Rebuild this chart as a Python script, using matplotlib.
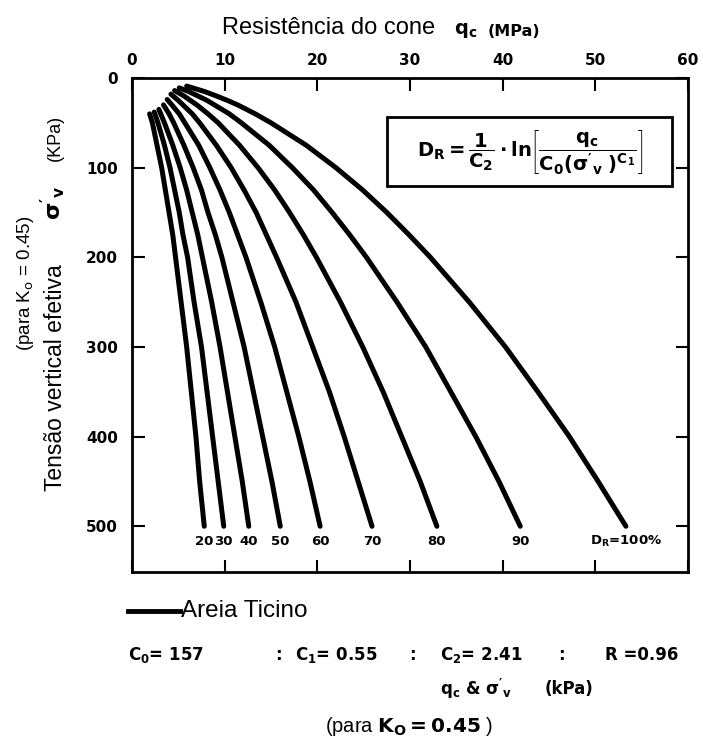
import matplotlib
matplotlib.use("Agg")
import matplotlib.pyplot as plt
from matplotlib.patches import Rectangle

plt.rcParams["font.family"] = ["Liberation Sans", "DejaVu Sans"]
plt.rcParams["mathtext.fontset"] = "custom"
plt.rcParams["mathtext.rm"] = "DejaVu Sans"
plt.rcParams["mathtext.it"] = "DejaVu Sans:italic"
plt.rcParams["mathtext.bf"] = "DejaVu Sans:bold"

BOLD = "DejaVu Sans"

# ── 数据 ──────────────────────────────────────────────────────
DR_LABELS = ["20", "30", "40", "50", "60", "70", "80", "90", "$\\mathbf{D_R}$=100%"]

# 每条曲线上端（σ'v < 50 kPa）的读数
TOP_SIGMA = [
    [40],
    [38],
    [35, 40],
    [30, 40],
    [24, 30, 40],
    [18, 25, 30, 40],
    [14, 20, 25, 30, 40],
    [11, 15, 20, 25, 30, 40],
    [9, 15, 20, 25, 30, 40],
]
TOP_QC = [
    [1.9],
    [2.4],
    [2.9, 3.1],
    [3.4, 4.0],
    [3.8, 4.3, 5.1],
    [4.2, 5.0, 5.5, 6.5],
    [4.6, 5.6, 6.3, 7.0, 8.2],
    [5.1, 6.1, 7.1, 8.1, 8.9, 10.5],
    [5.9, 7.8, 9.1, 10.3, 11.4, 13.3],
]

# 公共的 σ'v 读数位置 (kPa)
SIGMA = [50, 75, 100, 125, 150, 175, 200, 250, 300, 350, 400, 450, 500]

# 各 DR 曲线在上述 σ'v 处的 qc (MPa)
QC_20 = [2.2, 2.7, 3.2, 3.6, 4.0, 4.4, 4.7, 5.3, 5.9, 6.4, 6.9, 7.3, 7.8]
QC_30 = [2.8, 3.5, 4.1, 4.6, 5.1, 5.5, 6.0, 6.7, 7.5, 8.1, 8.7, 9.3, 9.9]
QC_40 = [3.5, 4.4, 5.2, 5.9, 6.5, 7.1, 7.6, 8.6, 9.5, 10.3, 11.1, 11.9, 12.6]
QC_50 = [4.5, 5.6, 6.6, 7.5, 8.2, 9.0, 9.7, 10.9, 12.1, 13.1, 14.1, 15.1, 16.0]
QC_60 = [5.7, 7.2, 8.4, 9.5, 10.5, 11.4, 12.3, 13.9, 15.4, 16.7, 18.0, 19.2, 20.3]
QC_70 = [7.3, 9.1, 10.7, 12.1, 13.4, 14.5, 15.6, 17.7, 19.5, 21.3, 22.9, 24.4, 25.9]
QC_80 = [9.3, 11.6, 13.6, 15.4, 17.0, 18.5, 19.9, 22.5, 24.9, 27.1, 29.1, 31.1, 32.9]
QC_90 = [11.8, 14.8, 17.3, 19.6, 21.6, 23.5, 25.3, 28.6, 31.7, 34.4, 37.1, 39.6, 41.9]
QC_100 = [15.0, 18.8, 22.0, 24.9, 27.5, 29.9, 32.2, 36.4, 40.3, 43.8, 47.2, 50.3, 53.3]
QC_ALL = [QC_20, QC_30, QC_40, QC_50, QC_60, QC_70, QC_80, QC_90, QC_100]

X_TICKS = [0, 10, 20, 30, 40, 50, 60]
Y_TICKS = [0, 100, 200, 300, 400, 500]

W, H = 703, 747


def fx(px):
    return px / W


def fy(py):
    return 1 - py / H


fig = plt.figure(figsize=(W / 100, H / 100), dpi=100)
ax = fig.add_axes([fx(132), fy(572), (688 - 132) / W, (572 - 78) / H])

for top_s, top_q, qc in zip(TOP_SIGMA, TOP_QC, QC_ALL):
    ax.plot(top_q + qc, top_s + SIGMA, color="black", lw=3.6,
            solid_capstyle="round", solid_joinstyle="round")

# 曲线末端标签
for label, qc in zip(DR_LABELS, QC_ALL):
    ax.text(qc[-1], 517, label, ha="center", va="center",
            fontsize=9.5, fontweight="bold", family=BOLD)

ax.set_xlim(0, 60)
ax.set_ylim(551, 0)
ax.set_xticks(X_TICKS)
ax.set_yticks(Y_TICKS)
ax.tick_params(axis="x", top=True, bottom=True, labeltop=True,
               labelbottom=False, direction="in", length=9, width=1.5,
               labelsize=11, pad=7)
ax.tick_params(axis="y", left=True, right=True, direction="in",
               length=9, width=1.5, labelsize=11, pad=10)
for lab in ax.get_xticklabels() + ax.get_yticklabels():
    lab.set_fontweight("bold")
    lab.set_family(BOLD)
for sp in ax.spines.values():
    sp.set_linewidth(2)

# 公式框
ax.add_patch(Rectangle((0.459, 0.781), 0.513, 0.14, transform=ax.transAxes,
                       fill=False, lw=2, color="black"))
ax.text(0.7155, 0.851,
        r"$\mathbf{D_R = \dfrac{1}{C_2}\cdot ln\left[\dfrac{q_c}{C_0(\sigma'_v\ )^{C_1}}\right]}$",
        transform=ax.transAxes, ha="center", va="center", fontsize=14)

# 标题与轴标签
fig.text(fx(222), fy(28), "Resistência do cone", ha="left", va="center", fontsize=17)
fig.text(fx(454), fy(30), r"$\mathbf{q_c}$", ha="left", va="center", fontsize=14)
fig.text(fx(488), fy(31), "(MPa)", ha="left", va="center",
         fontsize=11.5, fontweight="bold", family=BOLD)

fig.text(fx(55), fy(378), "Tensão vertical efetiva", rotation=90,
         ha="center", va="center", fontsize=16.5)
fig.text(fx(53), fy(203), r"$\mathbf{\sigma'_v}$", rotation=90,
         ha="center", va="center", fontsize=16)
fig.text(fx(55), fy(138), "(KPa)", rotation=90, ha="center", va="center", fontsize=13)
fig.text(fx(25), fy(283), r"(para K$_\mathrm{o}$ = 0.45)", rotation=90,
         ha="center", va="center", fontsize=13.5)

# 图例与参数说明
fig.lines.append(plt.Line2D([fx(128), fx(180)], [fy(611), fy(611)],
                            transform=fig.transFigure, color="black", lw=3.5))
fig.text(fx(181), fy(611), "Areia Ticino", ha="left", va="center", fontsize=17.5)

params_y = fy(655)
pk = dict(va="center", fontsize=12, fontweight="bold", family=BOLD)
fig.text(fx(128), params_y, r"$\mathbf{C_0}$= 157", ha="left", **pk)
fig.text(fx(278), params_y, ":", ha="center", **pk)
fig.text(fx(295), params_y, r"$\mathbf{C_1}$= 0.55", ha="left", **pk)
fig.text(fx(412), params_y, ":", ha="center", **pk)
fig.text(fx(440), params_y, r"$\mathbf{C_2}$= 2.41", ha="left", **pk)
fig.text(fx(561), params_y, ":", ha="center", **pk)
fig.text(fx(605), params_y, "R =0.96", ha="left", **pk)

fig.text(fx(440), fy(689), r"$\mathbf{q_c}$ & $\mathbf{\sigma'_v}$", ha="left", **pk)
fig.text(fx(545), fy(689), "(kPa)", ha="left", **pk)
fig.text(fx(409), fy(727), r"(para $\mathbf{K_O = 0.45}$ )", ha="center",
         va="center", fontsize=14.5)

fig.savefig("out.png", dpi=100)
